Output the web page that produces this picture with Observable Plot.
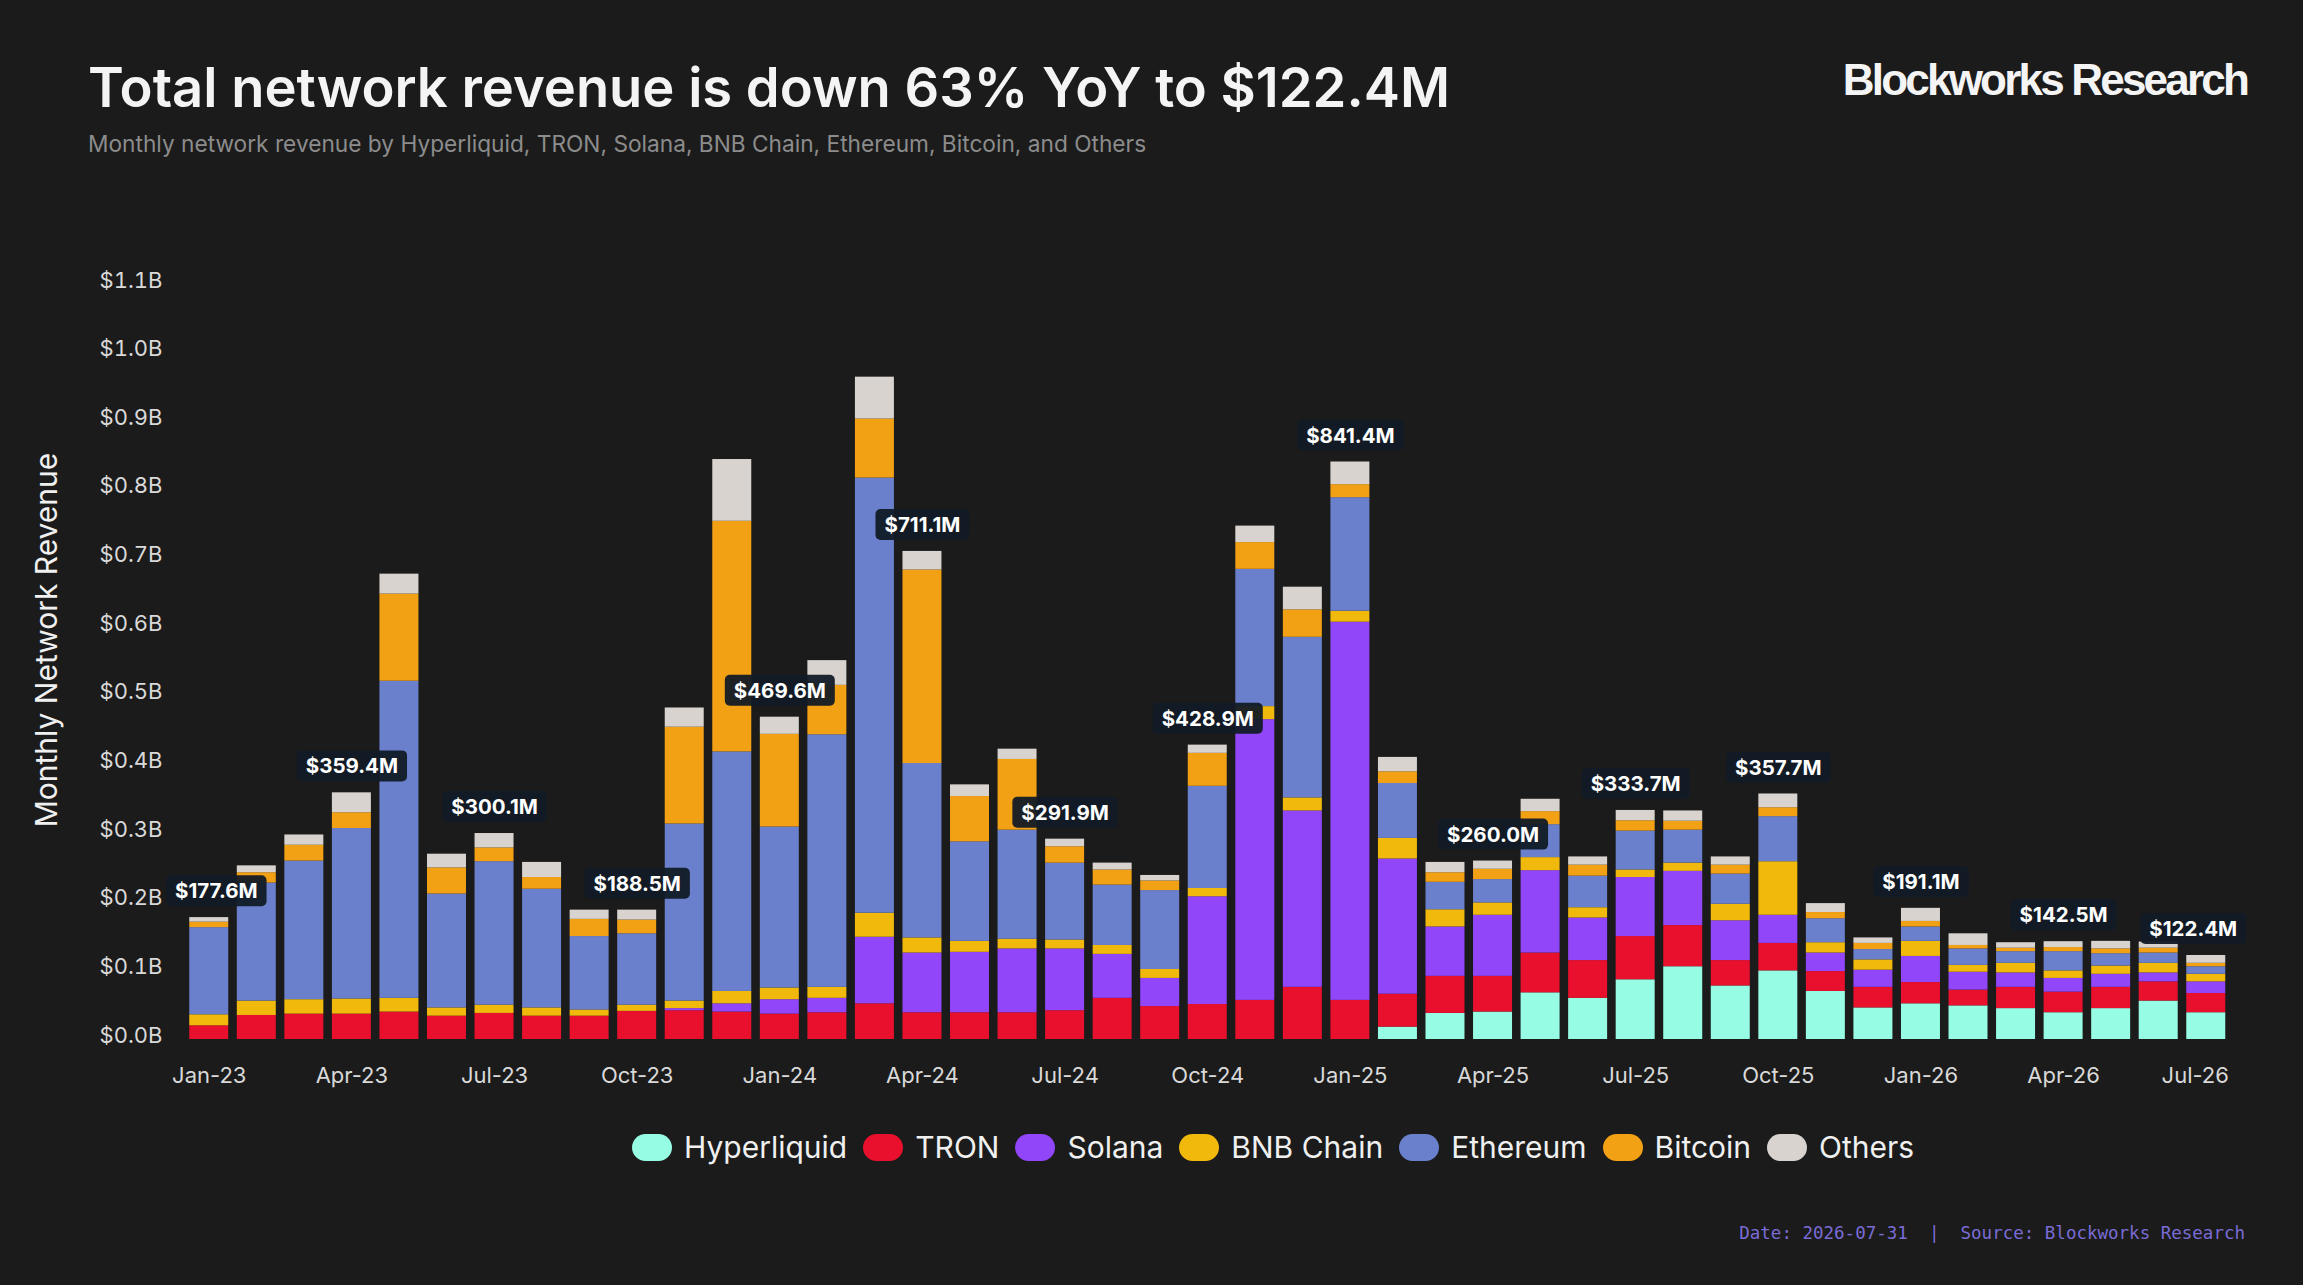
<!DOCTYPE html>
<html>
<head>
<meta charset="utf-8">
<script src="https://cdn.jsdelivr.net/npm/d3@7"></script>
<script src="https://cdn.jsdelivr.net/npm/@observablehq/plot@0.6"></script>
<style>
  html, body { margin: 0; padding: 0; background: #1b1b1b; }
  body { width: 2303px; height: 1285px; position: relative; overflow: hidden; font-family: Inter, "Open Sans", sans-serif; }
  .title { position: absolute; left: 88px; top: 60px; font-size: 54.3px; font-weight: 600; color: #f4f4f4; line-height: 1; white-space: nowrap; }
  .subtitle { position: absolute; left: 88px; top: 133px; font-size: 22.7px; font-weight: 400; color: #8c8c8c; line-height: 1; white-space: nowrap; }
  .brand { position: absolute; right: 56px; top: 58px; font-family: "Liberation Sans", Arial, sans-serif; font-size: 44px; font-weight: 700; color: #f4f4f4; line-height: 1; letter-spacing: -2.8px; white-space: nowrap; }
  #chart { position: absolute; left: 0; top: 0; }
  .legend { position: absolute; left: 632px; top: 1127px; height: 40px; display: flex; align-items: center; white-space: nowrap; }
  .legend .item { display: flex; align-items: center; margin-right: 16px; }
  .legend .sw { width: 40px; height: 27px; border-radius: 13.5px; margin-right: 12px; }
  .legend .lb { font-size: 30px; color: #f0f0f0; line-height: 1; }
  .footer { position: absolute; right: 58px; top: 1225px; font-family: "DejaVu Sans Mono", "Liberation Mono", monospace; font-size: 17.5px; color: #7a6cd6; line-height: 1; white-space: pre; }
</style>
</head>
<body>
<div class="title">Total network revenue is down 63% YoY to $122.4M</div>
<div class="subtitle">Monthly network revenue by Hyperliquid, TRON, Solana, BNB Chain, Ethereum, Bitcoin, and Others</div>
<div class="brand">Blockworks Research</div>
<div id="chart"></div>
<div class="legend" id="legend"></div>
<div class="footer">Date: 2026-07-31  |  Source: Blockworks Research</div>
<script>
// Months (categories)
const months = [
  "Jan-23","Feb-23","Mar-23","Apr-23","May-23","Jun-23","Jul-23","Aug-23","Sep-23","Oct-23","Nov-23","Dec-23",
  "Jan-24","Feb-24","Mar-24","Apr-24","May-24","Jun-24","Jul-24","Aug-24","Sep-24","Oct-24","Nov-24","Dec-24",
  "Jan-25","Feb-25","Mar-25","Apr-25","May-25","Jun-25","Jul-25","Aug-25","Sep-25","Oct-25","Nov-25","Dec-25",
  "Jan-26","Feb-26","Mar-26","Apr-26","May-26","Jun-26","Jul-26"
];

// Series (bottom to top) and colours
const seriesNames = ["Hyperliquid", "TRON", "Solana", "BNB Chain", "Ethereum", "Bitcoin", "Others"];
const seriesColors = ["#97fce4", "#e8102c", "#9146fa", "#f0b90b", "#6a80cc", "#f2a115", "#d8d3ce"];

// Monthly revenue, $M
const hyperliquid = [0,0,0,0,0,0,0,0,0,0,0,0, 0,0,0,0,0,0,0,0,0,0,0,0, 0,18,38,40,68,60,87,106,78,100,70,46, 52,49,45,39,45,56,39];
const tron        = [20,35,37,37,40,34,38,34,34,41,42,40, 37,39,52,39,39,39,42,60,48,51,57,76, 57,48,54,52,58,55,63,60,37,40,29,30, 31,23,31,30,31,28,28];
const solana      = [0,0,0,0,0,0,0,0,0,0,3,12, 21,21,97,87,88,93,90,64,41,157,409,257, 551,197,72,89,120,62,86,79,58,41,27,25, 38,26,21,20,19,13,17];
const bnb         = [16,21,21,22,20,12,12,12,9,9,11,18, 17,16,35,22,16,14,13,13,13,12,19,19, 16,30,25,18,19,15,11,12,24,78,15,15, 22,10,14,11,12,14,11];
const ethereum    = [127,172,202,248.4,462,166,209.1,173,107,104,258,349, 234.6,368,634,254.1,145,159,111.9,88,115,148.9,200,234, 165.4,80,40,34,48,46,56.7,48,44,65.7,35,15, 21,24,17,28,18,15,11];
const bitcoin     = [8,15,23,23,127,38,20,17,25,20,141,336, 135,72,86,282,66,103,24,22,14,48,39,40, 19,17,14,15,19,16,15,13,13,13,9,9, 8,5,5,6,7,7,5];
const others      = [6.6,10,15,29,29,20,21,22,13.5,14.5,28,90, 25,36,61,27,17,15,11,10,8,12,24,33, 33,21,15,12,18,12,15,15,12,20,13,8, 19.1,17,8,8.5,11,9,11.4];

// Y ticks ($M) and x tick labels
const yTicks = [0,100,200,300,400,500,600,700,800,900,1000,1100];
const xTickLabels = ["Jan-23","Apr-23","Jul-23","Oct-23","Jan-24","Apr-24","Jul-24","Oct-24","Jan-25","Apr-25","Jul-25","Oct-25","Jan-26","Apr-26","Jul-26"];
// Months carrying a total label
const labelMonths = ["Jan-23","Apr-23","Jul-23","Oct-23","Jan-24","Apr-24","Jul-24","Oct-24","Jan-25","Apr-25","Jul-25","Oct-25","Jan-26","Apr-26","Jul-26"];

const seriesValues = [hyperliquid, tron, solana, bnb, ethereum, bitcoin, others];
const table = [];
seriesNames.forEach((s, k) => {
  months.forEach((m, i) => table.push({month: m, series: s, value: seriesValues[k][i]}));
});
const totals = months.map((m, i) => ({month: m, total: d3.sum(seriesValues, v => v[i])}));
const labelled = totals.filter(d => labelMonths.includes(d.month));
const fmtTotal = d => `$${d.total.toFixed(1)}M`;
const firstM = months[0], lastM = months[months.length - 1];

const labelOpts = {x: "month", y: "total", text: fmtTotal, dy: -26, fill: "#ffffff", fontWeight: 700, fontSize: 20.5};
const xAxisOpts = {tickSize: 0, tickPadding: 28, fontSize: 22, fill: "#d9d9d9", label: null, style: {letterSpacing: "1.1px"}};

const plot = Plot.plot({
  width: 2303,
  height: 1110,
  marginTop: 284,
  marginBottom: 71,
  marginLeft: 184.5,
  marginRight: 73,
  style: {background: "transparent", color: "#d9d9d9", fontFamily: "Inter, 'Open Sans', sans-serif"},
  x: {domain: months, paddingInner: 0.18, paddingOuter: 0.1, round: false, axis: null},
  y: {domain: [0, 1100], axis: null},
  color: {domain: seriesNames, range: seriesColors},
  marks: [
    Plot.barY(table, {x: "month", y: "value", fill: "series", order: seriesNames}),
    Plot.axisX({...xAxisOpts, ticks: xTickLabels.filter(d => d !== lastM)}),
    Plot.axisX({...xAxisOpts, ticks: [lastM], dx: -11}),
    Plot.axisY({ticks: yTicks, tickFormat: d => `$${(d / 1000).toFixed(1)}B`, tickSize: 0, tickPadding: 22.5, fontSize: 22, dy: -4, fill: "#d9d9d9", label: null}),
    Plot.text(["Monthly Network Revenue"], {frameAnchor: "left", textAnchor: "middle", dx: -138, dy: -22, rotate: -90, fontSize: 30, fill: "#f0f0f0", text: d => d}),
    Plot.text(labelled.filter(d => d.month !== firstM && d.month !== lastM), labelOpts),
    Plot.text(labelled.filter(d => d.month === firstM), {...labelOpts, dx: 7}),
    Plot.text(labelled.filter(d => d.month === lastM), {...labelOpts, dx: -13})
  ]
});
document.getElementById("chart").append(plot);

// rounded dark boxes behind the total labels
const totalTexts = new Set(labelled.map(fmtTotal));
Array.from(plot.querySelectorAll("text"))
  .filter(t => totalTexts.has(t.textContent))
  .forEach(t => {
    const b = t.getBBox();
    const cy = b.y + b.height / 2;
    const r = document.createElementNS("http://www.w3.org/2000/svg", "rect");
    r.setAttribute("x", b.x - 9);
    r.setAttribute("y", cy - 15.5);
    r.setAttribute("width", b.width + 18);
    r.setAttribute("height", 31);
    r.setAttribute("rx", 5);
    r.setAttribute("fill", "#121b26");
    r.setAttribute("fill-opacity", 0.95);
    if (t.getAttribute("transform")) r.setAttribute("transform", t.getAttribute("transform"));
    t.parentNode.insertBefore(r, t);
  });

// legend
const legend = document.getElementById("legend");
seriesNames.forEach((s, k) => {
  const item = document.createElement("div");
  item.className = "item";
  item.innerHTML = `<div class="sw" style="background:${seriesColors[k]}"></div><div class="lb">${s}</div>`;
  legend.append(item);
});
</script>
</body>
</html>
